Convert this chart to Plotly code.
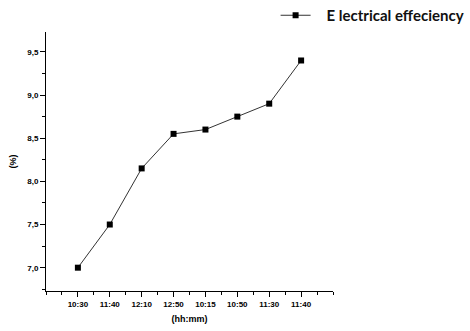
import plotly.graph_objects as go

times = ["10:30", "11:40", "12:10", "12:50", "10:15", "10:50", "11:30", "11:40"]
efficiency = [7.0, 7.5, 8.15, 8.55, 8.6, 8.75, 8.9, 9.4]
y_ticks = [7.0, 7.5, 8.0, 8.5, 9.0, 9.5]
y_labels = ["7,0", "7,5", "8,0", "8,5", "9,0", "9,5"]

xs = list(range(len(times)))

fig = go.Figure()
fig.add_trace(go.Scatter(
    x=xs, y=efficiency, mode="lines+markers",
    name="\u00a0\u00a0\u00a0E lectrical effeciency",
    line=dict(color="#333333", width=1),
    marker=dict(symbol="square", size=6, color="black"),
))

fig.update_layout(
    width=470, height=331,
    margin=dict(l=46, r=137, t=32, b=40, autoexpand=False),
    plot_bgcolor="white", paper_bgcolor="white",
    showlegend=True,
    legend=dict(x=0.80, y=1.0, xanchor="left", yanchor="bottom",
                font=dict(family="Lato", size=15, color="#111", weight="bold"),
                bgcolor="rgba(0,0,0,0)"),
    font=dict(family="Liberation Sans", color="black"),
)

fig.update_xaxes(
    range=[-1, 8], tickmode="array", tickvals=xs, ticktext=times,
    showline=True, linecolor="black", linewidth=1,
    ticks="outside", ticklen=5, tickcolor="black",
    minor=dict(dtick=0.5, tick0=-1, ticks="outside", ticklen=3, tickcolor="black"),
    showgrid=False, zeroline=False,
    tickfont=dict(size=8, family="Liberation Sans", weight="bold"),
    title=dict(text="(hh:mm)", font=dict(size=9, weight="bold"), standoff=8),
)
fig.update_yaxes(
    range=[6.73, 9.73], tickmode="array", tickvals=y_ticks, ticktext=y_labels,
    showline=True, linecolor="black", linewidth=1,
    ticks="outside", ticklen=5, tickcolor="black",
    minor=dict(dtick=0.25, tick0=7.0, ticks="outside", ticklen=3, tickcolor="black"),
    showgrid=False, zeroline=False,
    tickfont=dict(size=8, family="Liberation Sans", weight="bold"),
    title=dict(text="(%)", font=dict(size=9, weight="bold"), standoff=9),
)

fig.write_html("out.html", config={"displayModeBar": False},
               post_script="document.body.style.margin='0';")
